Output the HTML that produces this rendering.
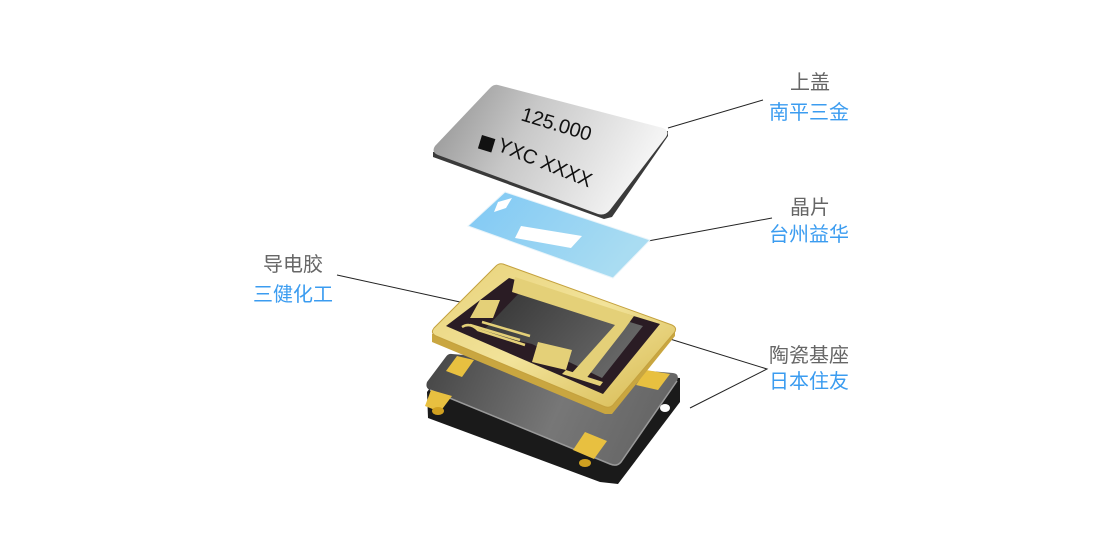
<!DOCTYPE html>
<html><head><meta charset="utf-8"><style>
html,body{margin:0;padding:0;background:#fff}
svg{display:block}
.g{font-family:"Liberation Sans","Noto Sans CJK SC",sans-serif;font-size:20px;fill:#666}
.b{font-family:"Liberation Sans","Noto Sans CJK SC",sans-serif;font-size:20px;fill:#3b9cf0}
</style></head><body>
<svg width="1113" height="534" viewBox="0 0 1113 534" xmlns="http://www.w3.org/2000/svg">
<defs>
<linearGradient id="lid" x1="0" y1="0" x2="1" y2="0.3"><stop offset="0" stop-color="#8e8e8e"/><stop offset="0.45" stop-color="#c8c8c8"/><stop offset="1" stop-color="#f4f4f4"/></linearGradient>
<linearGradient id="xt" x1="0" y1="0" x2="1" y2="0.4"><stop offset="0" stop-color="#7fc8f4"/><stop offset="1" stop-color="#a9dcf2"/></linearGradient>
<linearGradient id="gold" x1="0" y1="0" x2="1" y2="1"><stop offset="0" stop-color="#e8d27a"/><stop offset="0.5" stop-color="#f2e39a"/><stop offset="1" stop-color="#d6b84e"/></linearGradient>
<linearGradient id="base" x1="0" y1="0" x2="1" y2="0.2"><stop offset="0" stop-color="#444"/><stop offset="0.6" stop-color="#777"/><stop offset="1" stop-color="#666"/></linearGradient>
<linearGradient id="cav" x1="0" y1="0" x2="1" y2="0.5"><stop offset="0" stop-color="#333"/><stop offset="1" stop-color="#666"/></linearGradient>
</defs>

<g stroke="#222" stroke-width="1" fill="none">
<line x1="668" y1="128" x2="763" y2="100"/>
<line x1="648" y1="241" x2="772" y2="218"/>
<line x1="337" y1="275" x2="460" y2="302"/>
<polyline points="670,339 767,369 690,408"/>
</g>

<!-- base -->
<path d="M450,362 L680,378 L680,402 L618,484 L600,482 L428,418 L427,392 Z" fill="#1a1a1a"/>
<path d="M452,354 Q448,353 445,358 L427,382 Q425,388 430,390 L610,464 Q617,467 621,462 L677,381 Q680,374 673,373 Z" fill="url(#base)"/>
<path d="M430,390 L610,464 Q617,467 621,462 L677,381" stroke="#999" stroke-width="1.5" fill="none"/>
<polygon points="457,356 474,360 462,377 446,371" fill="#e8c040"/>
<polygon points="646,370 670,374 658,390 636,385" fill="#e8c040"/>
<polygon points="431,390 452,396 440,412 425,406" fill="#e8c040"/>
<polygon points="585,432 607,441 594,459 573,450" fill="#e8c040"/>
<ellipse cx="438" cy="411" rx="6" ry="4" fill="#d0a020"/>
<ellipse cx="585" cy="463" rx="6" ry="4" fill="#d0a020"/>
<ellipse cx="665" cy="408" rx="5" ry="4" fill="#fff"/>

<!-- gold ring lid -->
<path d="M432,334 L432,342 L605,414 L612,414 L675,336 L675,328 Z" fill="#c9a640"/>
<path d="M503,264 L672,325 Q678,328 674,333 L613,405 Q609,409 603,406 L436,336 Q430,333 434,328 L496,266 Q499,263 503,264 Z" fill="url(#gold)" stroke="#c4a13e" stroke-width="1"/>
<path d="M509,278 L660,324 L603,394 L446,326 Z" fill="#2a1c24"/>
<path d="M522,290 L643,326 L602,378 L532,344 L482,332 Z" fill="url(#cav)"/>
<polygon points="515,277 634,316 624,330 585,380 571,374 615,325 512,292" fill="#e4d078"/>
<polygon points="480,300 500,300 493,318 470,318" fill="#e4d078"/>
<polygon points="538,342 572,350 566,370 532,362" fill="#e4d078"/>
<polygon points="566,370 603,382 600,386 562,374" fill="#e4d078"/>
<g stroke="#e4d078" stroke-width="2.5" fill="none">
<path d="M462,327 Q470,322 478,330 L525,345"/>
<path d="M470,325 L520,340"/>
<path d="M482,322 L530,336"/>
</g>

<!-- crystal blank -->
<polygon points="505,192 650,240 613,278 468,226" fill="url(#xt)" stroke="#e8f4fa" stroke-width="1"/>
<polygon points="498,202 512,198 506,208 494,212" fill="#fff"/>
<polygon points="521,226 582,236 571,248 515,238" fill="#fff"/>

<!-- lid -->
<path d="M433,152 L433,157 L604,219 L612,217 L668,136 L668,131 Z" fill="#3a3a3a"/>
<path d="M498,85 L663,128 Q670,131 666,137 L610,210 Q605,216 598,214 L438,155 Q431,152 435,146 L490,88 Q494,84 498,85 Z" fill="url(#lid)"/>
<text x="0" y="0" transform="translate(520,120) rotate(17)" font-family="Liberation Sans,sans-serif" font-size="20" fill="#111">125.000</text>
<rect x="0" y="0" width="14" height="14" transform="translate(482,135) rotate(17)" fill="#111"/>
<text x="0" y="0" transform="translate(496,150) rotate(22)" font-family="Liberation Sans,sans-serif" font-size="20" fill="#111">YXC XXXX</text>

<text class="g" x="790" y="89">上盖</text>
<text class="b" x="769" y="119">南平三金</text>
<text class="g" x="790" y="214">晶片</text>
<text class="b" x="769" y="241">台州益华</text>
<text class="g" x="263" y="271">导电胶</text>
<text class="b" x="253" y="301">三健化工</text>
<text class="g" x="769" y="362">陶瓷基座</text>
<text class="b" x="769" y="388">日本住友</text>
</svg>
</body></html>
